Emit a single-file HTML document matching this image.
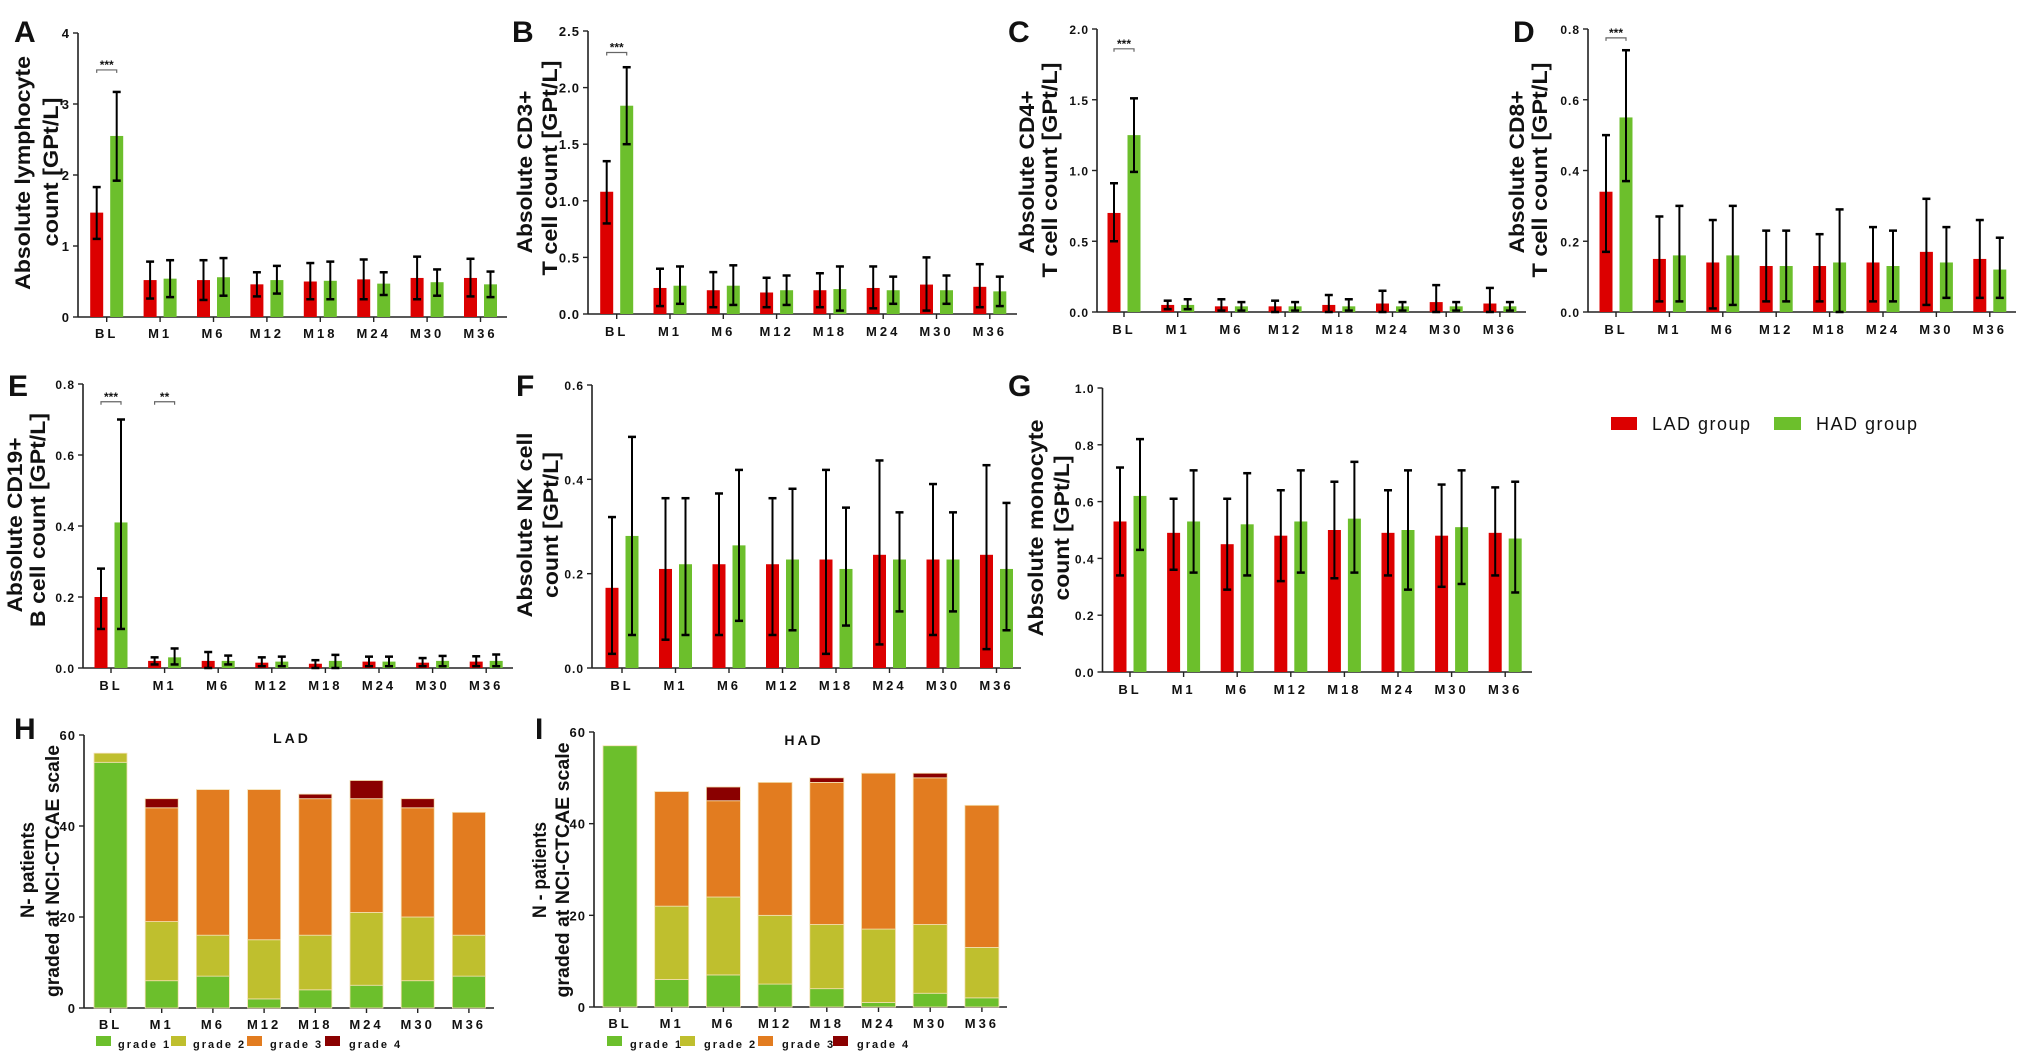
<!DOCTYPE html>
<html><head><meta charset="utf-8"><style>
html,body{margin:0;padding:0;background:#fff;}
svg{display:block;font-family:"Liberation Sans",Arial,sans-serif;}
</style></head><body>
<svg id="s" width="2020" height="1056" viewBox="0 0 2020 1056" xmlns="http://www.w3.org/2000/svg"></svg>
<script>
const S=document.getElementById('s');let h='';
const cats=['BL','M1','M6','M12','M18','M24','M30','M36'];
const RED='#dc0000',GRN='#6cbf2c';
function t(x,y,s,sz,o){o=o||{};h+=`<text x="${x}" y="${y}" font-size="${sz}" font-weight="bold" ${o.a?`text-anchor="${o.a}"`:''} ${o.len?`textLength="${o.len}" lengthAdjust="spacingAndGlyphs"`:''} ${o.tr?`transform="${o.tr}"`:''} ${o.ls?`letter-spacing="${o.ls}"`:''} fill="#111">${s}</text>`;}
function ytitle(x,yc,s,len,sz){t(x,yc,s,sz||19,{a:'middle',len:len,tr:`rotate(-90 ${x} ${yc})`});}
function axes(p){
 h+=`<line x1="${p.ax}" y1="${p.ytop}" x2="${p.ax}" y2="${p.y0}" stroke="#222" stroke-width="1.6"/>`;
 h+=`<line x1="${p.ax}" y1="${p.y0}" x2="${p.xend}" y2="${p.y0}" stroke="#222" stroke-width="1.6"/>`;
 const n=p.ticks.length-1;
 p.ticks.forEach((l,i)=>{const y=p.y0-(p.y0-p.ytop)*i/n;
  h+=`<line x1="${p.ax-5}" y1="${y}" x2="${p.ax}" y2="${y}" stroke="#222" stroke-width="1.4"/>`;
  t(p.ax-8,y+5,l,p.tsz||13,{a:'end',ls:1});});
 cats.forEach((c,i)=>{const x=p.c0+i*p.sp;
  h+=`<line x1="${x}" y1="${p.y0}" x2="${x}" y2="${p.y0+5}" stroke="#222" stroke-width="1.4"/>`;
  t(x,p.xl,c,13,{a:'middle',ls:3});});
}
function eb(x,y1,y2){h+=`<line x1="${x}" y1="${y1}" x2="${x}" y2="${y2}" stroke="#000" stroke-width="2"/><line x1="${x-4}" y1="${y1}" x2="${x+4}" y2="${y1}" stroke="#000" stroke-width="2.5"/><line x1="${x-4}" y1="${y2}" x2="${x+4}" y2="${y2}" stroke="#000" stroke-width="2.5"/>`;}
function bars(p){
 axes(p);const k=(p.y0-p.ytop)/p.vmax;const Y=v=>p.y0-v*k;
 p.d.forEach((d,i)=>{const c=p.c0+i*p.sp;
  [[d[0],d[1],d[2],c-10,RED],[d[3],d[4],d[5],c+10,GRN]].forEach(b=>{
   h+=`<rect x="${b[3]-6.5}" y="${Y(b[0])}" width="13" height="${b[0]*k}" fill="${b[4]}"/>`;});
  [[d[1],d[2],c-10],[d[4],d[5],c+10]].forEach(b=>eb(b[2],Y(b[1]),Y(b[0])));
 });
 (p.sig||[]).forEach(s=>{const c=p.c0+s[0]*p.sp;const y=Y(s[1]);
  h+=`<path d="M${c-10} ${y+3} V${y} H${c+10} V${y+3}" fill="none" stroke="#666" stroke-width="1.2"/>`;
  t(c,y-1,s[2],12,{a:'middle'});});
}
function letter(x,y,s){t(x,y,s,30,{});}
// A
letter(14,42,'A');
bars({ax:78,y0:317,ytop:33,vmax:4,ticks:['0','1','2','3','4'],c0:106.7,sp:53.4,xend:507,xl:338,
d:[[1.47,1.1,1.83,2.55,1.92,3.17],[.52,.26,.78,.54,.28,.80],[.52,.24,.80,.56,.30,.83],[.46,.29,.63,.52,.33,.72],[.50,.25,.76,.51,.25,.78],[.53,.25,.81,.47,.31,.63],[.55,.25,.85,.49,.30,.67],[.55,.29,.82,.46,.28,.64]],sig:[[0,3.48,'***']]});
ytitle(30,173,'Absolute lymphocyte',234,21);ytitle(58,172,'count [GPt/L]',149,21);
// B
letter(512,42,'B');
bars({ax:588,y0:314,ytop:31,vmax:2.5,ticks:['0.0','0.5','1.0','1.5','2.0','2.5'],c0:616.7,sp:53.3,xend:1017,xl:336,
d:[[1.08,.80,1.35,1.84,1.50,2.18],[.23,.07,.40,.25,.09,.42],[.21,.06,.37,.25,.08,.43],[.19,.06,.32,.21,.08,.34],[.21,.06,.36,.22,.03,.42],[.23,.05,.42,.21,.09,.33],[.26,.03,.50,.21,.09,.34],[.24,.06,.44,.20,.07,.33]],sig:[[0,2.31,'***']]});
ytitle(532,172,'Absolute CD3+',163,21);ytitle(557,168,'T cell count [GPt/L]',215,21);
// C
letter(1008,42,'C');
bars({ax:1097,y0:312,ytop:29,vmax:2,ticks:['0.0','0.5','1.0','1.5','2.0'],c0:1124,sp:53.7,xend:1526,xl:334,tsz:12,
d:[[.70,.50,.91,1.25,.99,1.51],[.05,.02,.08,.05,.02,.09],[.04,.01,.09,.04,.01,.07],[.04,0,.08,.04,.01,.07],[.05,0,.12,.04,.01,.09],[.06,0,.15,.04,.01,.07],[.07,0,.19,.04,.01,.07],[.06,0,.17,.04,.01,.07]],sig:[[0,1.86,'***']]});
ytitle(1034,172,'Absolute CD4+',163,21);ytitle(1057,170,'T cell count [GPt/L]',215,21);
// D
letter(1513,42,'D');
bars({ax:1588,y0:312,ytop:29,vmax:.8,ticks:['0.0','0.2','0.4','0.6','0.8'],c0:1616,sp:53.4,xend:2016,xl:334,tsz:12,
d:[[.34,.17,.50,.55,.37,.74],[.15,.03,.27,.16,.03,.30],[.14,.01,.26,.16,.02,.30],[.13,.03,.23,.13,.03,.23],[.13,.03,.22,.14,0,.29],[.14,.03,.24,.13,.03,.23],[.17,.02,.32,.14,.04,.24],[.15,.04,.26,.12,.04,.21]],sig:[[0,.775,'***']]});
ytitle(1524,172,'Absolute CD8+',163,21);ytitle(1547,170,'T cell count [GPt/L]',215,21);
// E
letter(8,396,'E');
bars({ax:83,y0:668,ytop:384,vmax:.8,ticks:['0.0','0.2','0.4','0.6','0.8'],c0:111,sp:53.6,xend:513,xl:690,tsz:12,
d:[[.20,.11,.28,.41,.11,.70],[.02,.01,.03,.03,.01,.055],[.02,0,.045,.02,.01,.035],[.015,.005,.03,.018,.005,.032],[.012,0,.022,.02,0,.037],[.018,.005,.032,.018,.005,.032],[.015,.005,.028,.02,.005,.034],[.018,.005,.033,.02,.005,.038]],sig:[[0,.75,'***'],[1,.75,'**']]});
ytitle(22,525,'Absolute CD19+',175,21);ytitle(45,520,'B cell count [GPt/L]',214,21);
// F
letter(516,396,'F');
bars({ax:592,y0:668,ytop:385,vmax:.6,ticks:['0.0','0.2','0.4','0.6'],c0:622,sp:53.5,xend:1021,xl:690,tsz:12,
d:[[.17,.03,.32,.28,.07,.49],[.21,.06,.36,.22,.07,.36],[.22,.07,.37,.26,.10,.42],[.22,.07,.36,.23,.08,.38],[.23,.03,.42,.21,.09,.34],[.24,.05,.44,.23,.12,.33],[.23,.07,.39,.23,.12,.33],[.24,.04,.43,.21,.08,.35]]});
ytitle(532,525,'Absolute NK cell',185,21);ytitle(558,525,'count [GPt/L]',146,21);
// G
letter(1008,396,'G');
bars({ax:1102.5,y0:672,ytop:388,vmax:1,ticks:['0.0','0.2','0.4','0.6','0.8','1.0'],c0:1130,sp:53.6,xend:1532,xl:694,tsz:12,
d:[[.53,.34,.72,.62,.43,.82],[.49,.36,.61,.53,.35,.71],[.45,.29,.61,.52,.34,.70],[.48,.32,.64,.53,.35,.71],[.50,.33,.67,.54,.35,.74],[.49,.34,.64,.50,.29,.71],[.48,.30,.66,.51,.31,.71],[.49,.34,.65,.47,.28,.67]]});
ytitle(1043,528,'Absolute monocyte',217,21);ytitle(1069,528,'count [GPt/L]',145,21);
// legend
h+=`<rect x="1611" y="417" width="26" height="13" fill="${RED}"/><rect x="1774" y="417" width="27" height="13" fill="${GRN}"/>`;
h+=`<text x="1652" y="430" font-size="18" letter-spacing="1.5" fill="#111">LAD group</text><text x="1816" y="430" font-size="18" letter-spacing="1.5" fill="#111">HAD group</text>`;
// stacked
const SC=['#6cbf2c','#bfbf2e','#e27c20','#8a0000'];
function stack(p){
 axes(p);const k=(p.y0-p.ytop)/60;
 p.d.forEach((d,i)=>{const c=p.c0+i*p.sp;let acc=0;
  d.forEach((v,j)=>{if(!v)return;const y=p.y0-(acc+v)*k;
   h+=`<rect x="${c-p.bw/2}" y="${y}" width="${p.bw}" height="${v*k}" fill="${SC[j]}" stroke="#f4e0b0" stroke-width="0.8"/>`;acc+=v;});});
 t(p.tx,p.ty,p.title,14,{a:'middle',ls:3});
 p.lg.forEach((l,j)=>{h+=`<rect x="${l[0]}" y="1036" width="15" height="10" fill="${SC[j]}"/>`;t(l[1],1048,'grade '+(j+1),11,{ls:2});});
}
letter(14,739,'H');
stack({ax:84,y0:1008,ytop:735,ticks:['0','20','40','60'],c0:110.5,sp:51.2,bw:33,xend:494,xl:1029,tx:292,ty:743,title:'LAD',
d:[[54,2,0,0],[6,13,25,2],[7,9,32,0],[2,13,33,0],[4,12,30,1],[5,16,25,4],[6,14,24,2],[7,9,27,0]],
lg:[[96,118],[171,193],[247,270],[325,349]]});
ytitle(34,870,'N- patients',96,19);ytitle(59,871,'graded at NCI-CTCAE scale',252,19);
letter(535,739,'I');
stack({ax:594,y0:1007,ytop:732,ticks:['0','20','40','60'],c0:620,sp:51.7,bw:34,xend:1007,xl:1028,tx:804,ty:745,title:'HAD',
d:[[57,0,0,0],[6,16,25,0],[7,17,21,3],[5,15,29,0],[4,14,31,1],[1,16,34,0],[3,15,32,1],[2,11,31,0]],
lg:[[607,630],[680,704],[758,782],[833,857]]});
ytitle(546,870,'N - patients',96,19);ytitle(569,870,'graded at NCI-CTCAE scale',255,19);
S.innerHTML=h;
</script>
</body></html>
